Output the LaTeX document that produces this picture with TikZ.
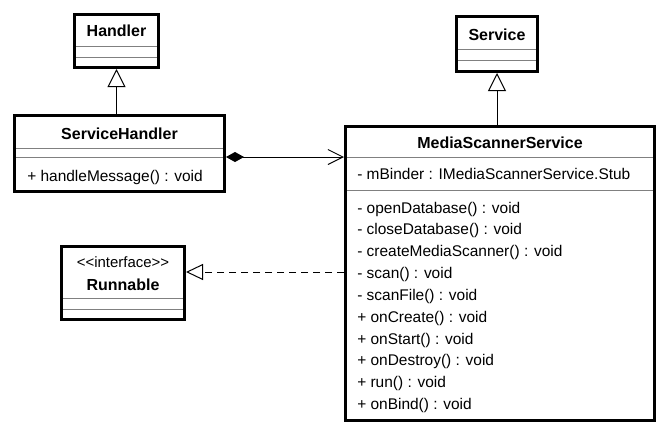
\documentclass[tikz,border=0pt]{standalone}
\usepackage{fontspec}
\setmainfont{Liberation Sans}
\usetikzlibrary{arrows.meta}
\begin{document}
\begin{tikzpicture}[x=0.75pt,y=-0.75pt,
  umlbox/.style={draw=black, line width=2.25pt, inner sep=0pt},
  sepline/.style={draw=black!50, line width=0.75pt, shorten <=2.25pt, shorten >=2.25pt},
  title/.style={font=\bfseries\fontsize{12pt}{14pt}\selectfont, anchor=base, inner sep=0pt},
  member/.style={font=\fontsize{11.6pt}{14pt}\selectfont, anchor=base west, inner sep=0pt},
  stereo/.style={font=\fontsize{11.2pt}{14pt}\selectfont, anchor=base, inner sep=0pt},
  gen/.style={draw=black, line width=0.75pt, -{Triangle[open, length=13.5pt, width=13.5pt]}},
  comp/.style={draw=black, line width=0.75pt, {Diamond[length=13.5pt, width=7.5pt]}-{Straight Barb[length=11.25pt, width=11.25pt]}},
  real/.style={draw=black, line width=0.75pt, dash pattern=on 5.25pt off 3.75pt, -{Triangle[open, length=12.75pt, width=12pt]}}
]
\fill[white] (0,0) rectangle (668,436);
\useasboundingbox (0,0) rectangle (668,436);

% boxes
\node[umlbox, minimum width=63pt, minimum height=39.75pt] (h) at (116.5,41) {};
\node[umlbox, minimum width=157.5pt, minimum height=57pt] (sh) at (119.5,153.5) {};
\node[umlbox, minimum width=60.75pt, minimum height=41.25pt] (s) at (497,44) {};
\node[umlbox, minimum width=231.75pt, minimum height=220.5pt] (mss) at (500,273.5) {};
\node[umlbox, minimum width=92.25pt, minimum height=54.75pt] (run) at (123,283) {};

% separators
\draw[sepline] (h.west |- 0,46.5) -- (h.east |- 0,46.5);
\draw[sepline] (h.west |- 0,57) -- (h.east |- 0,57);
\draw[sepline] (sh.west |- 0,148) -- (sh.east |- 0,148);
\draw[sepline] (sh.west |- 0,157) -- (sh.east |- 0,157);
\draw[sepline] (s.west |- 0,49.5) -- (s.east |- 0,49.5);
\draw[sepline] (s.west |- 0,60) -- (s.east |- 0,60);
\draw[sepline] (mss.west |- 0,157) -- (mss.east |- 0,157);
\draw[sepline] (mss.west |- 0,190) -- (mss.east |- 0,190);
\draw[sepline] (run.west |- 0,298.5) -- (run.east |- 0,298.5);
\draw[sepline] (run.west |- 0,309) -- (run.east |- 0,309);

% texts
\node[title] (th) at (116.5,36.5) {Handler};
\node[title] (tsh) at (119.5,139) {ServiceHandler};
\node[member] (shm) at (27,181) {+ handleMessage() : void};
\node[title] (ts) at (497,40) {Service};
\node[title] (tm) at (500,148) {MediaScannerService};
\node[member] (ma) at (357,179) {- mBinder : IMediaScannerService.Stub};
\foreach \t [count=\i from 0] in {- openDatabase() : void, - closeDatabase() : void, - createMediaScanner() : void, - scan() : void, - scanFile() : void, + onCreate() : void, + onStart() : void, + onDestroy() : void, + run() : void, + onBind() : void}
  \node[member] (mm\i) at (357,213+\i*21.85) {\t};
\node[stereo] (st) at (123,267) {<\kern0pt<interface>\kern0pt>};
\node[title] (tr) at (123,290) {Runnable};

% connectors
\draw[gen] (h.south |- sh.north) -- (h.south);
\draw[gen] (s.south |- mss.north) -- (s.south);
\draw[comp] (sh.east |- 0,157) -- (mss.west |- 0,157);
\draw[real] (mss.west |- 0,272) -- (run.east |- 0,272);
\end{tikzpicture}
\end{document}
